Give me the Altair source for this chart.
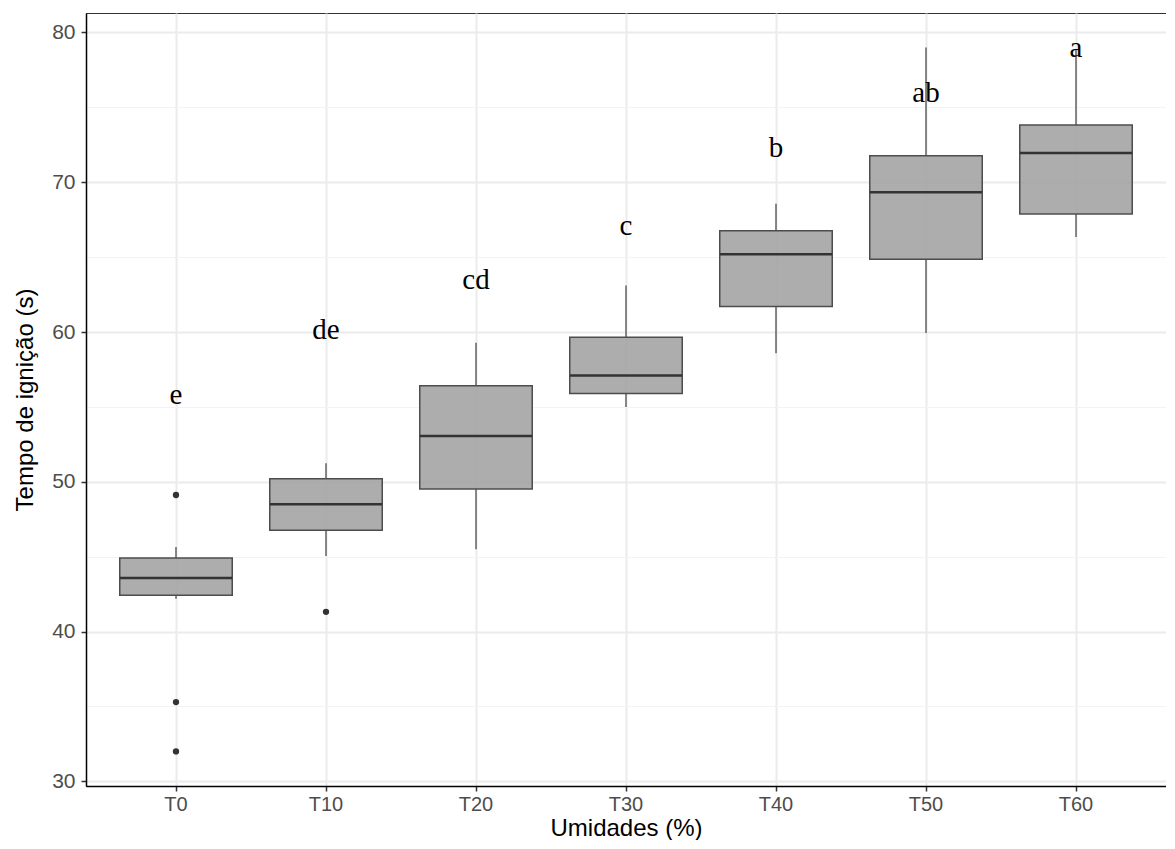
import altair as alt
import pandas as pd

# ---- data ----
groups = ["T0", "T10", "T20", "T30", "T40", "T50", "T60"]
whisker_low = [42.19, 45.04, 45.49, 55.00, 58.59, 59.93, 66.35]
q1 = [42.43, 46.76, 49.52, 55.89, 61.70, 64.86, 67.88]
median = [43.58, 48.50, 53.05, 57.10, 65.20, 69.34, 71.96]
q3 = [44.92, 50.20, 56.42, 59.65, 66.77, 71.77, 73.82]
whisker_high = [45.65, 51.24, 59.29, 63.10, 68.56, 79.00, 78.90]
letters = ["e", "de", "cd", "c", "b", "ab", "a"]
letter_y = [55.22, 59.54, 62.87, 66.50, 71.68, 75.33, 78.38]

outlier_group = ["T0", "T0", "T0", "T10"]
outlier_value = [49.12, 35.29, 32.00, 41.32]

y_ticks = [30, 35, 40, 45, 50, 55, 60, 65, 70, 75, 80]

box_df = pd.DataFrame({
    "group": groups, "lo": whisker_low, "q1": q1, "med": median,
    "q3": q3, "hi": whisker_high, "letter": letters, "ly": letter_y,
})
out_df = pd.DataFrame({"group": outlier_group, "value": outlier_value})

FONT = "Liberation Sans"
major = "datum.value % 10 === 0"

x_enc = alt.X(
    "group:N",
    sort=groups,
    scale=alt.Scale(domain=groups, paddingInner=0, paddingOuter=0.1),
    axis=alt.Axis(
        title="Umidades (%)", labelAngle=0, grid=True, bandPosition=0.5,
        gridColor="#ebebeb", gridWidth=2,
        domainColor="#000000", domainWidth=1.5,
        tickColor="#333333", tickSize=5, tickWidth=1.5,
        labelFont=FONT, labelFontSize=20, labelColor="#4d4d4d", labelPadding=3,
        titleFont=FONT, titleFontSize=24, titleFontWeight="normal",
        titleColor="#000000", titlePadding=2,
    ),
)

y_scale = alt.Scale(domain=[29.69, 81.3], nice=False, zero=False)
y_axis = alt.Axis(
    title="Tempo de ignição (s)", values=y_ticks,
    labelExpr=f"{major} ? datum.label : ''",
    grid=True,
    gridColor={"condition": {"test": major, "value": "#ebebeb"}, "value": "#f3f3f3"},
    gridWidth={"condition": {"test": major, "value": 2}, "value": 1.2},
    domainColor="#000000", domainWidth=1.5,
    tickColor="#333333", tickSize=5, tickWidth=1.5,
    tickOpacity={"condition": {"test": major, "value": 1}, "value": 0},
    labelFont=FONT, labelFontSize=21, labelColor="#4d4d4d", labelPadding=6,
    titleFont=FONT, titleFontSize=24, titleFontWeight="normal",
    titleColor="#000000", titlePadding=14,
)


def Y(field):
    return alt.Y(f"{field}:Q", scale=y_scale, axis=y_axis)


base = alt.Chart(box_df)

whisk_low = base.mark_rule(color="#4d4d4d", strokeWidth=1.3).encode(
    x=x_enc, y=Y("lo"), y2="q1")
whisk_high = base.mark_rule(color="#4d4d4d", strokeWidth=1.3).encode(
    x=x_enc, y=Y("q3"), y2="hi")
boxes = base.mark_bar(
    width=alt.RelativeBandSize(0.75), fill="#a4a4a4", fillOpacity=0.9,
    stroke="#4d4d4d", strokeWidth=1.5,
).encode(x=x_enc, y=Y("q1"), y2="q3")
medians = base.mark_tick(color="#333333", thickness=2.5, size=112, opacity=1).encode(
    x=x_enc, y=Y("med"))
outliers = alt.Chart(out_df).mark_circle(size=40, color="#333333", opacity=1).encode(
    x=x_enc, y=Y("value"))
labels = base.mark_text(
    font="Liberation Serif", fontSize=29, baseline="alphabetic", align="center",
    color="#000000",
).encode(x=x_enc, y=Y("ly"), text="letter:N")

chart = alt.layer(whisk_low, whisk_high, boxes, medians, outliers, labels).properties(
    width=1080, height=773,
    padding={"left": 5, "top": 5, "right": 0, "bottom": 0},
).configure_view(stroke="#333333", strokeWidth=1)

chart.save("out.html", embed_options={"renderer": "svg", "actions": False})
